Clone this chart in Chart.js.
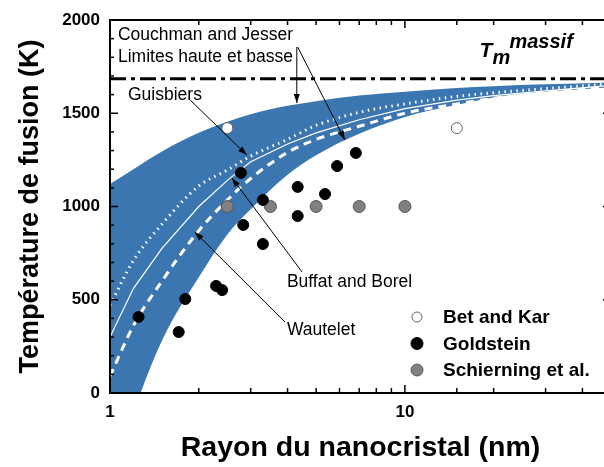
<!DOCTYPE html>
<html>
<head>
<meta charset="utf-8">
<script src="https://cdn.jsdelivr.net/npm/chart.js@4.4.0/dist/chart.umd.min.js"></script>
<style>
  html, body { margin: 0; padding: 0; overflow: hidden; background: #fff; }
</style>
</head>
<body>
<canvas id="fusion-chart" width="612" height="467"></canvas>
<script>
// Model curves (radius in nm, temperature in K)
const radii = [1, 1.2, 1.5, 2, 2.5, 3, 4, 5, 7, 10, 15, 20, 30, 50];
const upperLimit = [1120, 1200, 1295, 1395, 1455, 1495, 1540, 1565, 1595, 1615, 1635, 1645, 1655, 1665];
const lowerLimit = [-520, -110, 280, 620, 850, 985, 1170, 1275, 1390, 1480, 1545, 1585, 1615, 1640];
const guisbiers = [470, 710, 905, 1110, 1195, 1270, 1360, 1435, 1505, 1550, 1590, 1610, 1632, 1658];
const buffatBorel = [300, 560, 775, 1000, 1140, 1240, 1335, 1395, 1465, 1525, 1570, 1595, 1620, 1650];
const wautelet = [90, 360, 600, 870, 1035, 1150, 1290, 1360, 1430, 1500, 1550, 1580, 1610, 1643];
const bulkRange = [1, 50];
const bulkTm = 1685;

// Experimental points
const betKarR = [2.5, 15];
const betKarT = [1420, 1420];
const goldsteinR = [1.25, 1.71, 1.8, 2.29, 2.4, 2.78, 2.83, 3.3, 3.3, 4.33, 4.33, 5.36, 5.89, 6.82];
const goldsteinT = [408, 327, 504, 574, 552, 1180, 901, 1035, 799, 1105, 949, 1067, 1217, 1287];
const schierningR = [2.5, 3.5, 5, 7, 10];
const schierningT = [1000, 1000, 1000, 1000, 1000];

// Axis labels
const xLabelled = [1, 10];
const yTickStep = 500;
const yMinorStep = 100;

const FONT = '"Liberation Sans", Arial, sans-serif';
const BAND = 'rgb(59, 118, 176)';

// Text notes and arrows, placed in data units
const notes = [
  { text: 'Couchman and Jesser', r: 1.064, t: 1893 },
  { text: 'Limites haute et basse', r: 1.064, t: 1775 },
  { text: 'Guisbiers', r: 1.151, t: 1571 },
  { text: 'Buffat and Borel', r: 3.98, t: 568 },
  { text: 'Wautelet', r: 3.98, t: 311 }
];
const arrows = [
  { from: [4.3, 1855], to: [4.3, 1555] },
  { from: [4.33, 1855], to: [6.26, 1357] },
  { from: [1.87, 1571], to: [2.91, 1276] },
  { from: [4.48, 649], to: [2.59, 1153] },
  { from: [3.92, 381], to: [1.94, 863] }
];

const pts = (xs, ys) => xs.map((x, i) => ({ x: x, y: ys[i] }));

// Frame with inward ticks on all sides
const frameTicks = {
  id: 'frameTicks',
  afterDatasetsDraw(chart) {
    const { ctx, chartArea: a, scales: { x, y } } = chart;
    const seg = (x1, y1, x2, y2) => { ctx.beginPath(); ctx.moveTo(x1, y1); ctx.lineTo(x2, y2); ctx.stroke(); };
    ctx.save();
    ctx.strokeStyle = '#000';
    ctx.lineWidth = 2;
    ctx.strokeRect(a.left, a.top, a.right - a.left, a.bottom - a.top);
    ctx.lineWidth = 1.5;
    for (let v = y.min; v <= y.max; v += yMinorStep) {
      const py = y.getPixelForValue(v);
      const len = v % yTickStep === 0 ? 8 : 4;
      seg(a.left, py, a.left + len, py);
      seg(a.right, py, a.right - len, py);
    }
    x.ticks.forEach(t => {
      const px = x.getPixelForValue(t.value);
      const len = xLabelled.includes(t.value) ? 8 : 5;
      seg(px, a.bottom, px, a.bottom - len);
      seg(px, a.top, px, a.top + len);
    });
    ctx.restore();
  }
};

// Notes, arrows, Tm label and legend
const notesPlugin = {
  id: 'notes',
  afterDraw(chart) {
    const { ctx, chartArea: a, scales: { x, y } } = chart;
    ctx.save();
    ctx.fillStyle = '#000';
    ctx.strokeStyle = '#000';
    ctx.font = '17.5px ' + FONT;
    ctx.textBaseline = 'alphabetic';
    notes.forEach(n => ctx.fillText(n.text, x.getPixelForValue(n.r), y.getPixelForValue(n.t)));

    ctx.lineWidth = 1;
    arrows.forEach(ar => {
      const x1 = x.getPixelForValue(ar.from[0]), y1 = y.getPixelForValue(ar.from[1]);
      const x2 = x.getPixelForValue(ar.to[0]), y2 = y.getPixelForValue(ar.to[1]);
      const ang = Math.atan2(y2 - y1, x2 - x1);
      ctx.beginPath(); ctx.moveTo(x1, y1); ctx.lineTo(x2, y2); ctx.stroke();
      ctx.beginPath();
      ctx.moveTo(x2, y2);
      ctx.lineTo(x2 - 9 * Math.cos(ang) + 3 * Math.sin(ang), y2 - 9 * Math.sin(ang) - 3 * Math.cos(ang));
      ctx.lineTo(x2 - 9 * Math.cos(ang) - 3 * Math.sin(ang), y2 - 9 * Math.sin(ang) + 3 * Math.cos(ang));
      ctx.closePath(); ctx.fill();
    });

    // T_m^massif
    const tx = x.getPixelForValue(17.9), ty = y.getPixelForValue(bulkTm + 117);
    ctx.font = 'italic bold 21px ' + FONT;
    ctx.fillText('T', tx, ty);
    ctx.font = 'italic bold 20px ' + FONT;
    ctx.fillText('m', tx + 13, ty + 7);
    ctx.fillText('massif', tx + 30, ty - 9);

    // legend, bottom right of the plot
    const items = [
      { label: 'Bet and Kar', fill: '#fff', stroke: '#666', r: 5 },
      { label: 'Goldstein', fill: '#000', stroke: '#000', r: 6 },
      { label: 'Schierning et al.', fill: '#808080', stroke: '#555', r: 6 }
    ];
    ctx.font = 'bold 19px ' + FONT;
    ctx.textBaseline = 'middle';
    items.forEach((it, i) => {
      const ly = a.bottom - 76 + i * 26.5;
      const lx = a.right - 194;
      ctx.beginPath();
      ctx.arc(lx, ly, it.r, 0, Math.PI * 2);
      ctx.fillStyle = it.fill; ctx.fill();
      ctx.strokeStyle = it.stroke; ctx.lineWidth = 1; ctx.stroke();
      ctx.fillStyle = '#000';
      ctx.fillText(it.label, lx + 26, ly + 1);
    });
    ctx.restore();
  }
};

const curve = (data, color, dash, width, order) => ({
  data: pts(radii, data),
  borderColor: color,
  borderDash: dash,
  borderWidth: width,
  pointRadius: 0,
  fill: false,
  cubicInterpolationMode: 'monotone',
  order: order
});

new Chart(document.getElementById('fusion-chart'), {
  type: 'line',
  data: {
    datasets: [
      { data: pts(radii, upperLimit), borderWidth: 0, pointRadius: 0, backgroundColor: BAND,
        fill: '+1', cubicInterpolationMode: 'monotone', order: 5 },
      { data: pts(radii, lowerLimit), borderWidth: 0, pointRadius: 0, fill: false,
        cubicInterpolationMode: 'monotone', order: 5 },
      curve(guisbiers, '#fff', [1.5, 4.5], 3, 3),
      Object.assign(curve(buffatBorel, '#fff', [], 1.2, 3), { cubicInterpolationMode: 'default', tension: 0 }),
      curve(wautelet, '#fff', [8, 6], 3, 3),
      { data: pts(bulkRange, [bulkTm, bulkTm]), borderColor: '#000', borderWidth: 3,
        borderDash: [16, 5, 4, 5], pointRadius: 0, fill: false, order: 2 },
      { data: pts(betKarR, betKarT), showLine: false, pointRadius: 5.5, pointBackgroundColor: '#fff',
        pointBorderColor: '#666', pointBorderWidth: 1, order: 0 },
      { data: pts(goldsteinR, goldsteinT), showLine: false, pointRadius: 5.5, pointBackgroundColor: '#000',
        pointBorderColor: '#000', pointBorderWidth: 1, order: 0 },
      { data: pts(schierningR, schierningT), showLine: false, pointRadius: 6, pointBackgroundColor: '#808080',
        pointBorderColor: '#555', pointBorderWidth: 1, order: 0 }
    ]
  },
  options: {
    responsive: false,
    animation: false,
    devicePixelRatio: 1,
    layout: { autoPadding: false, padding: { top: 20, right: 1, left: 0, bottom: 0 } },
    plugins: { legend: { display: false }, tooltip: { enabled: false } },
    scales: {
      x: {
        type: 'logarithmic',
        min: 1,
        max: 50,
        grid: { display: false, drawTicks: false },
        border: { display: false },
        ticks: {
          autoSkip: false,
          maxRotation: 0,
          padding: 9,
          color: '#000',
          font: { family: FONT, size: 17, weight: 'bold' },
          callback: v => xLabelled.includes(v) ? String(v) : ''
        },
        title: {
          display: true,
          text: 'Rayon du nanocristal (nm)',
          color: '#000',
          font: { family: FONT, size: 28.5, weight: 'bold' },
          padding: { top: 0, bottom: 2 }
        },
        afterFit: s => { s.height = 74; s.paddingLeft = 0; s.paddingRight = 0; }
      },
      y: {
        min: 0,
        max: 2000,
        grid: { display: false, drawTicks: false },
        border: { display: false },
        ticks: {
          stepSize: yTickStep,
          padding: 10,
          color: '#000',
          font: { family: FONT, size: 17, weight: 'bold' },
          callback: v => String(v)
        },
        title: {
          display: true,
          text: 'Température de fusion (K)',
          color: '#000',
          font: { family: FONT, size: 27, weight: 'bold' },
          padding: { top: 14, bottom: 0 }
        },
        afterFit: s => { s.width = 110; s.paddingTop = 0; s.paddingBottom = 0; }
      }
    }
  },
  plugins: [frameTicks, notesPlugin]
});
</script>
</body>
</html>
